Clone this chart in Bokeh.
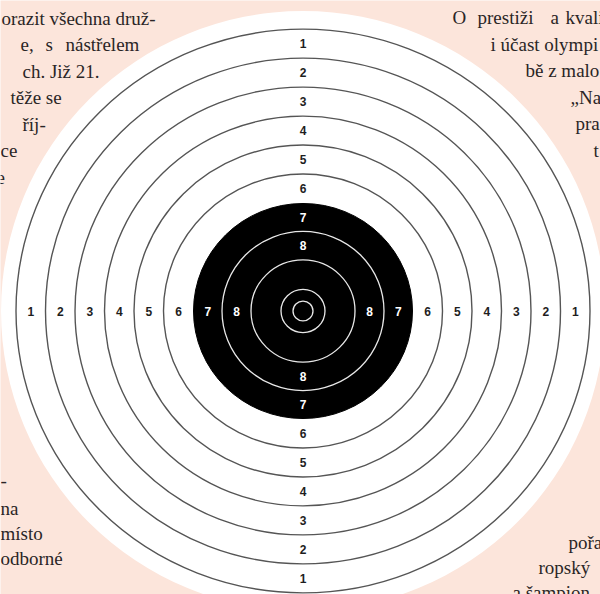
from bokeh.plotting import figure
from bokeh.models import Range1d, ColumnDataSource
from bokeh.core.properties import value
from bokeh.embed import file_html
from bokeh.resources import INLINE

# ---- data: target rings (score -> outer radius, px in image units) ----
scores = [1, 2, 3, 4, 5, 6, 7, 8, 9, 10]
outer_radius = [287, 257.5, 228, 198.5, 169, 139.5, 109.5, 81, 52, 22]
inner_x_radius = 10
label_scores = [1, 2, 3, 4, 5, 6, 7, 8]

# ---- background magazine text (word, x, baseline y) ----
text_words = ["orazit všechna druž-", "e,", "s", "nástřelem", "ch. Již 21.", "těže se", "říj-", "ce", "e",
              "O", "prestiži", "a", "kvalitě", "i účast olympi", "bě z malo", "„Na", "pra", "t",
              "-", "na", "místo", "odborné",
              "pořa", "ropský", "a šampion"]
text_x = [1, 20, 45, 65, 22, 10, 22, 0, -4,
          452, 477, 550, 565, 490, 525, 570, 575, 593,
          0, 0, 0, 0,
          568, 538, 512]
text_y = [18, 44, 44, 44, 71, 97, 124, 150, 177,
          17, 17, 17, 17, 44, 70, 97, 123, 150,
          480, 508, 533, 558,
          542, 567, 592]

CX, CY = 302.5, 310.5
VR = 0.982  # vertical squash of the scanned target
PINK = "#fce5db"

p = figure(width=600, height=594, x_range=Range1d(0, 600), y_range=Range1d(594, 0),
           output_backend="svg", toolbar_location=None, min_border=0,
           x_axis_location=None, y_axis_location=None)
p.grid.visible = False
p.outline_line_color = None
p.background_fill_color = PINK
p.border_fill_color = PINK

# text behind
p.text(x=text_x, y=text_y, text=text_words, text_font=value("Liberation Serif"),
       text_font_size="19px", text_baseline="alphabetic", text_align="left",
       text_color="#2a2526")

# white disk
p.ellipse(x=[CX], y=[CY], width=[604], height=[600], fill_color="white", line_color=None)

# outer rings (dark lines on white)
white_r = [r for s, r in zip(scores, outer_radius) if s <= 6]
p.ellipse(x=[CX] * len(white_r), y=[CY] * len(white_r),
          width=[2 * r for r in white_r], height=[2 * r * VR for r in white_r],
          fill_color=None, line_color="#555555", line_width=1.4)

# black aiming mark (zone 7)
r7 = outer_radius[scores.index(7)]
p.ellipse(x=[CX], y=[CY], width=[2 * r7], height=[2 * r7 * VR], fill_color="black", line_color="black")

# inner white rings
black_r = [r for s, r in zip(scores, outer_radius) if s >= 8] + [inner_x_radius]
p.ellipse(x=[CX] * len(black_r), y=[CY] * len(black_r),
          width=[2 * r for r in black_r], height=[2 * r * VR for r in black_r],
          fill_color=None, line_color="#e8e8e8", line_width=1.3)

# labels on four sides
lx, ly, lt, lc = [], [], [], []
for s in label_scores:
    i = scores.index(s)
    d = (outer_radius[i] + outer_radius[i + 1]) / 2
    col = "white" if s >= 7 else "#1e1e1e"
    for dx, dy in [(-d, 0), (d, 0), (0, -d * VR), (0, d * VR)]:
        lx.append(CX + dx)
        ly.append(CY + dy)
        lt.append(str(s))
        lc.append(col)
src = ColumnDataSource(dict(x=lx, y=ly, t=lt, c=lc))
p.text(x="x", y="y", text="t", source=src, text_color="c",
       text_font=value("Liberation Sans"), text_font_style="bold", text_font_size="12px",
       text_align="center", text_baseline="middle")

open("out.html", "w").write(file_html(p, INLINE))
